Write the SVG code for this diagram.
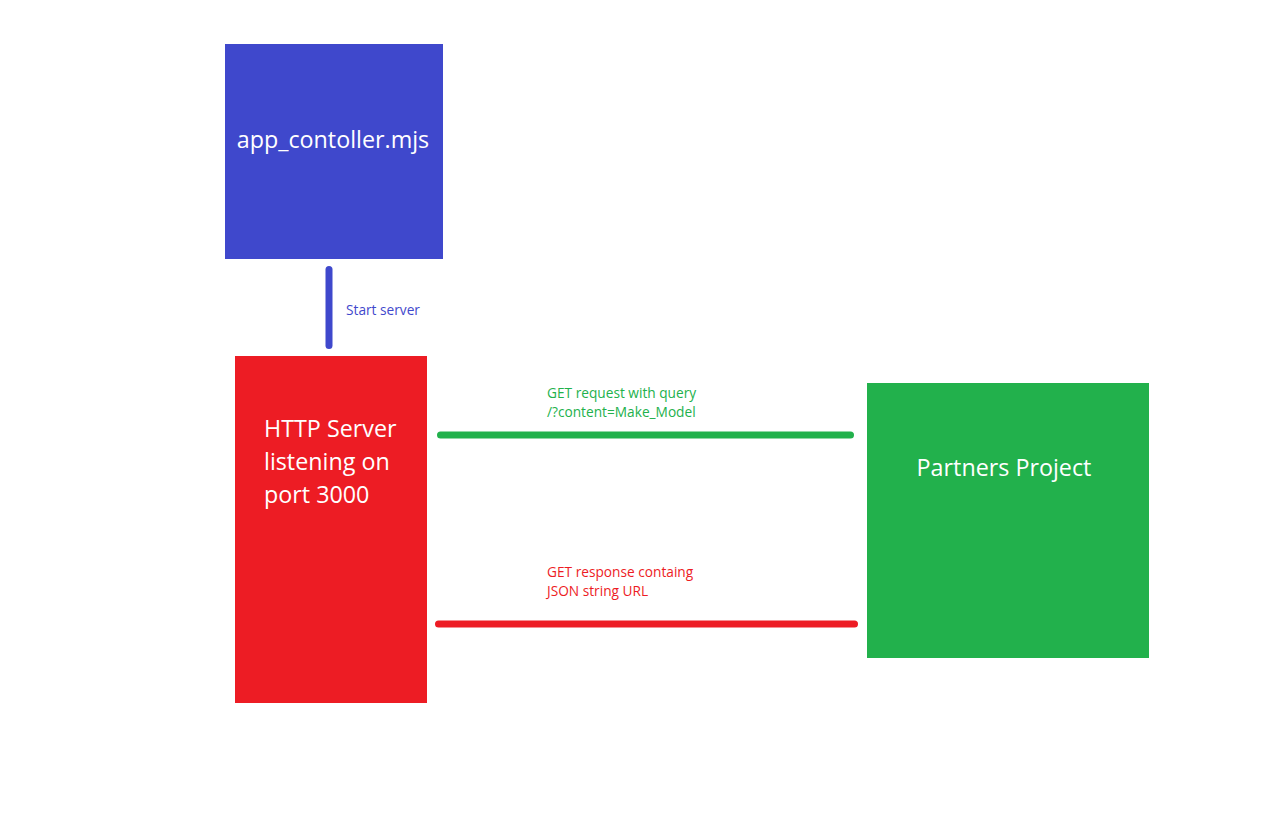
<svg xmlns="http://www.w3.org/2000/svg" width="1285" height="822" viewBox="0 0 1285 822">
<style>
.node-label{font-family:"Open Sans","Noto Sans","Liberation Sans",sans-serif;font-size:23.3px;fill:#ffffff}
.edge-label{font-family:"Open Sans","Noto Sans","Liberation Sans",sans-serif;font-size:13.7px}
.conn{stroke-width:7;stroke-linecap:round;fill:none}
</style>
<rect x="0" y="0" width="1285" height="822" fill="#ffffff"/>
<g id="app-controller">
<rect x="225" y="44" width="218" height="215" fill="#3f48cc"/>
<text class="node-label" x="333" y="148" text-anchor="middle">app_contoller.mjs</text>
</g>
<g id="http-server">
<rect x="235" y="356" width="192" height="347" fill="#ed1c24"/>
<text class="node-label" x="264" y="437">HTTP Server</text>
<text class="node-label" x="264" y="470">listening on</text>
<text class="node-label" x="264" y="503">port 3000</text>
</g>
<g id="partners-project">
<rect x="867" y="383" width="282" height="275" fill="#22b14c"/>
<text class="node-label" x="1004" y="476" text-anchor="middle">Partners Project</text>
</g>
<g id="connectors">
<line class="conn" x1="329" y1="269.5" x2="329" y2="345.5" stroke="#3f48cc"/>
<text class="edge-label" x="346" y="315" fill="#3f48cc">Start server</text>
<line class="conn" x1="440.5" y1="435" x2="850.5" y2="435" stroke="#22b14c"/>
<text class="edge-label" x="547" y="398" fill="#22b14c">GET request with query</text>
<text class="edge-label" x="547" y="417" fill="#22b14c">/?content=Make_Model</text>
<line class="conn" x1="438.5" y1="624" x2="854.5" y2="624" stroke="#ed1c24"/>
<text class="edge-label" x="547" y="577" fill="#ed1c24">GET response containg</text>
<text class="edge-label" x="547" y="596" fill="#ed1c24">JSON string URL</text>
</g>
</svg>
